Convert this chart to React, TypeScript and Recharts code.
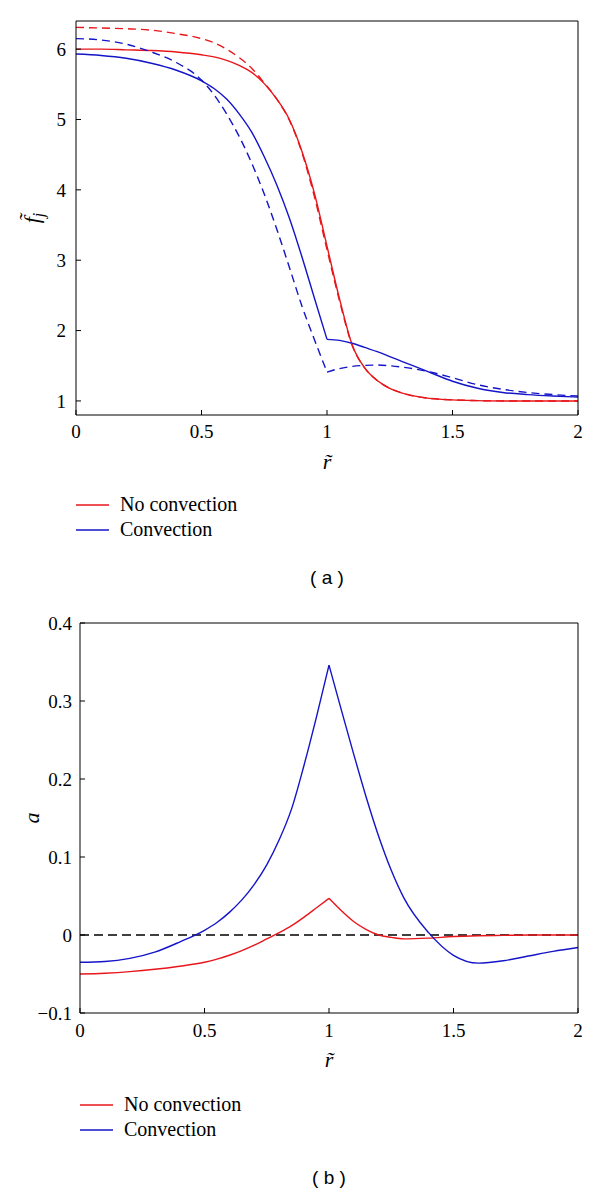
/** Two stacked MATLAB-style panels: f~_j (top) and a (bottom) against r~.
 *  Dashed curves share the colour of their solid partner; the legend only lists the solid ones. */
import { Label, Legend, Line, LineChart, ReferenceLine, XAxis, YAxis } from "recharts";

const RED = "#E8161B";
const BLUE = "#1414C8";
const SERIF = '"Liberation Serif", "Times New Roman", serif';
const SANS = '"Liberation Sans", Arial, sans-serif';

// radius grid shared by every curve; KNEE is the index of r~ = 1
const rGrid = [0, 0.1, 0.2, 0.3, 0.4, 0.5, 0.55, 0.6, 0.65, 0.7, 0.75, 0.8, 0.85, 0.9, 0.95, 1,
  1.05, 1.1, 1.15, 1.2, 1.25, 1.3, 1.4, 1.5, 1.6, 1.7, 1.8, 1.9, 2];
const KNEE = 15;

const fNoConvection = [6.0, 6.0, 5.99, 5.98, 5.96, 5.92, 5.89, 5.84, 5.77, 5.67, 5.51, 5.29, 5.0, 4.55, 3.95, 3.2,
  2.45, 1.8, 1.47, 1.29, 1.18, 1.11, 1.04, 1.015, 1.005, 1.0, 1.0, 1.0, 1.0];
const fNoConvectionDashed = [6.31, 6.3, 6.29, 6.27, 6.22, 6.15, 6.09, 6.0, 5.88, 5.73, 5.52, 5.29, 4.99, 4.53, 3.9, 3.15,
  2.42, 1.79, 1.47, 1.29, 1.18, 1.11, 1.04, 1.015, 1.005, 1.0, 1.0, 1.0, 1.0];
const fConvection = [5.93, 5.91, 5.87, 5.8, 5.7, 5.55, 5.44, 5.29, 5.08, 4.82, 4.47, 4.07, 3.6, 3.05, 2.46, 1.875,
  1.86, 1.82, 1.76, 1.7, 1.63, 1.56, 1.42, 1.28, 1.18, 1.12, 1.09, 1.07, 1.055];
const fConvectionDashed = [6.15, 6.13, 6.07, 5.96, 5.81, 5.56, 5.35, 5.08, 4.76, 4.38, 3.94, 3.44, 2.9, 2.35, 1.87, 1.41,
  1.46, 1.49, 1.505, 1.51, 1.5, 1.48, 1.42, 1.33, 1.23, 1.165, 1.12, 1.09, 1.07];

const aNoConvection = [-0.05, -0.049, -0.047, -0.044, -0.04, -0.035, -0.031, -0.026, -0.02, -0.013, -0.005, 0.003,
  0.012, 0.023, 0.035, 0.047, 0.031, 0.017, 0.007, 0.0, -0.003, -0.005, -0.004, -0.002, -0.001, -0.0005, 0, 0, 0];
const aConvection = [-0.035, -0.034, -0.03, -0.022, -0.009, 0.006, 0.016, 0.029, 0.045, 0.065, 0.09, 0.122, 0.162,
  0.218, 0.28, 0.346, 0.288, 0.231, 0.176, 0.126, 0.083, 0.048, 0.003, -0.026, -0.036, -0.033, -0.027, -0.021, -0.016];

const rTicks = [0, 0.5, 1, 1.5, 2];
const fTicks = [1, 2, 3, 4, 5, 6];
const aTicks = [-0.1, 0, 0.1, 0.2, 0.3, 0.4];
const seriesNames = ["No convection", "Convection"];

type Pt = { r: number; v: number };
type Seg = { id: string; data: Pt[]; color: string; dashed?: boolean; name?: string };

const pts = (ys: number[], from: number, to: number): Pt[] =>
  rGrid.slice(from, to).map((r, i) => ({ r, v: ys[from + i] }));

// curves with a corner at r~ = 1 are drawn as two pieces so the smoothing keeps the corner
function curve(id: string, ys: number[], color: string, opts: { dashed?: boolean; name?: string; split?: boolean }): Seg[] {
  const { dashed, name, split } = opts;
  if (!split) return [{ id, data: pts(ys, 0, rGrid.length), color, dashed, name }];
  return [
    { id: id + "-in", data: pts(ys, 0, KNEE + 1), color, dashed, name },
    { id: id + "-out", data: pts(ys, KNEE, rGrid.length), color, dashed },
  ];
}

const fSegs: Seg[] = [
  ...curve("f-noconv", fNoConvection, RED, { name: seriesNames[0] }),
  ...curve("f-conv", fConvection, BLUE, { name: seriesNames[1], split: true }),
  ...curve("f-noconv-d", fNoConvectionDashed, RED, { dashed: true }),
  ...curve("f-conv-d", fConvectionDashed, BLUE, { dashed: true, split: true }),
];
const aSegs: Seg[] = [
  ...curve("a-noconv", aNoConvection, RED, { name: seriesNames[0], split: true }),
  ...curve("a-conv", aConvection, BLUE, { name: seriesNames[1], split: true }),
];

const fmt = (v: number) => (v < 0 ? "\u2212" + Math.abs(v) : String(v));

// tick object props were not reaching the text, so draw the tick labels ourselves
const XTick = ({ x, y, payload }: any) => (
  <text x={x} y={y} dy="0.71em" textAnchor="middle" fontFamily={SERIF} fontSize={19} fill="#000"
    style={{ fontFamily: SERIF, fontSize: 19 }}>
    {fmt(payload.value)}
  </text>
);
const YTick = ({ x, y, payload }: any) => (
  <text x={x} y={y} dy="0.355em" textAnchor="end" fontFamily={SERIF} fontSize={19} fill="#000"
    style={{ fontFamily: SERIF, fontSize: 19 }}>
    {fmt(payload.value)}
  </text>
);

function LegendBox({ payload }: any) {
  const items = seriesNames
    .map((n) => (payload ?? []).find((p: any) => p.value === n))
    .filter(Boolean);
  return (
    <div style={{ fontFamily: SERIF, fontSize: 20, color: "#000" }}>
      {items.map((p: any) => (
        <div key={p.value} style={{ display: "flex", alignItems: "center", height: 25 }}>
          <svg width={33} height={4}>
            <line x1={0} y1={2} x2={33} y2={2} stroke={p.color} strokeWidth={1.4} />
          </svg>
          <span style={{ marginLeft: 11 }}>{p.value}</span>
        </div>
      ))}
    </div>
  );
}

type PanelProps = {
  height: number;
  left: number; // y-axis band width (plot starts here)
  top: number;
  bottom: number; // x-axis band height
  yDomain: [number, number];
  yTicks: number[];
  yLabel: "f" | "a";
  yTickMargin: number;
  xTickMargin: number;
  caption: string;
  segs: Seg[];
  zeroLine?: boolean;
};

function Panel(p: PanelProps) {
  const midY = p.top + (p.height - p.top - p.bottom) / 2;
  const yLabel = () => (
    <text x={39} y={midY} textAnchor="middle" transform={`rotate(-90 39 ${midY})`}
      fontFamily={SERIF} fontStyle="italic" fontSize={22} fill="#000" style={{ fontFamily: SERIF }}>
      {p.yLabel === "f" ? (
        <>
          {"f\u0303"}
          <tspan fontSize={16} dy={5}>j</tspan>
        </>
      ) : (
        "a"
      )}
    </text>
  );
  const xLabel = ({ viewBox }: any) => (
    <text x={viewBox.x + viewBox.width / 2} y={viewBox.y + 46} textAnchor="middle" dominantBaseline="central"
      fontFamily={SERIF} fontStyle="italic" fontSize={22} fill="#000" style={{ fontFamily: SERIF }}>
      {"r\u0303"}
    </text>
  );
  const caption = ({ viewBox }: any) => (
    <text x={viewBox.x + viewBox.width / 2} y={577} textAnchor="middle" dominantBaseline="central"
      fontFamily={SANS} fontSize={19} fill="#000" style={{ fontFamily: SANS }}>
      {p.caption}
    </text>
  );

  return (
    <LineChart width={600} height={p.height} margin={{ top: 0, right: 0, bottom: 0, left: 0 }}
      style={{ fontFamily: SERIF }}>
      <XAxis type="number" dataKey="r" domain={[0, 2]} ticks={rTicks} height={p.bottom} stroke="#000"
        tickSize={-5} tickMargin={p.xTickMargin} tick={<XTick />} allowDuplicatedCategory={false}>
        <Label content={xLabel} />
        <Label content={caption} />
      </XAxis>
      <XAxis xAxisId="top" orientation="top" type="number" dataKey="r" domain={[0, 2]} ticks={rTicks}
        height={p.top} stroke="#000" tickSize={-5} tick={false} allowDuplicatedCategory={false} />
      <YAxis type="number" domain={p.yDomain} ticks={p.yTicks} width={p.left} stroke="#000" tickSize={-5}
        tickMargin={p.yTickMargin} tick={<YTick />} allowDataOverflow>
        <Label content={yLabel} />
      </YAxis>
      <YAxis yAxisId="right" orientation="right" type="number" domain={p.yDomain} ticks={p.yTicks} width={22}
        stroke="#000" tickSize={-5} tick={false} allowDataOverflow />
      {p.zeroLine && <ReferenceLine y={0} stroke="#000" strokeWidth={1.3} strokeDasharray="9 5" />}
      {p.segs.map((s) => (
        <Line key={s.id} data={s.data} dataKey="v" name={s.name ?? s.id} type="monotone" stroke={s.color}
          strokeWidth={1.4} strokeDasharray={s.dashed ? "8 5" : undefined} dot={false} activeDot={false}
          legendType={s.name ? "line" : "none"} isAnimationActive={false} />
      ))}
      <Legend content={<LegendBox />} layout="vertical" verticalAlign="middle" align="center"
        wrapperStyle={{ top: 492, left: p.left, width: 220 }} />
    </LineChart>
  );
}

export default function App() {
  return (
    <div style={{ position: "absolute", top: 0, left: 0, width: 600, background: "#fff", fontFamily: SERIF }}>
      <Panel height={600} left={76} top={21} bottom={185} yDomain={[0.8, 6.4]} yTicks={fTicks} yLabel="f"
        yTickMargin={15} xTickMargin={15} caption="( a )" segs={fSegs} />
      <Panel height={591} left={80} top={23} bottom={178} yDomain={[-0.1, 0.4]} yTicks={aTicks} yLabel="a"
        yTickMargin={13} xTickMargin={16} caption="( b )" segs={aSegs} zeroLine />
    </div>
  );
}
